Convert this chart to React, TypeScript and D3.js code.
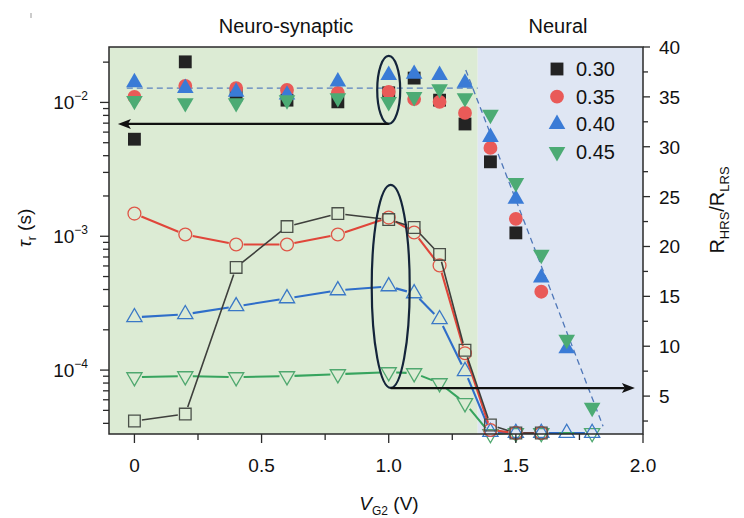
import React from 'react';
import * as d3 from 'd3';

// V_G2 positions and values
// filled symbols -> tau_r (left, log axis); open symbols -> R_HRS/R_LRS (right axis)
const tauX030 = [0, 0.2, 0.4, 0.6, 0.8, 1.0, 1.1, 1.2, 1.3, 1.4, 1.5];
const tau030 = [0.00531, 0.0201, 0.0114, 0.0104, 0.0101, 0.0118, 0.0152, 0.0104, 0.0069, 0.0036, 0.00106];
const tauX035 = [0, 0.2, 0.4, 0.6, 0.8, 1.0, 1.1, 1.2, 1.3, 1.4, 1.5, 1.6];
const tau035 = [0.011, 0.0133, 0.0128, 0.0124, 0.0118, 0.012, 0.0106, 0.0101, 0.00835, 0.00457, 0.00135, 0.000385];
const tauX040 = [0, 0.2, 0.4, 0.6, 0.8, 1.0, 1.1, 1.2, 1.3, 1.4, 1.5, 1.6, 1.7];
const tau040 = [0.0141, 0.0128, 0.012, 0.0114, 0.0143, 0.016, 0.0163, 0.016, 0.014, 0.0055, 0.0019, 0.00049, 0.000145];
const tauX045 = [0, 0.2, 0.4, 0.6, 0.8, 1.0, 1.1, 1.2, 1.3, 1.4, 1.5, 1.6, 1.7, 1.8];
const tau045 = [0.0103, 0.0099, 0.0099, 0.0104, 0.0108, 0.0101, 0.011, 0.0126, 0.0108, 0.0081, 0.00251, 0.00073, 0.000169, 0.0000525];

const ratioX030 = [0, 0.2, 0.4, 0.6, 0.8, 1.0, 1.1, 1.2, 1.3, 1.4, 1.5, 1.6];
const ratio030 = [2.5, 3.2, 17.9, 22.0, 23.3, 22.7, 21.9, 19.2, 9.6, 2.1, 1.3, 1.3];
const ratioX035 = [0, 0.2, 0.4, 0.6, 0.8, 1.0, 1.1, 1.2, 1.3, 1.4, 1.5, 1.6];
const ratio035 = [23.3, 21.2, 20.2, 20.2, 21.2, 22.9, 21.4, 18.1, 9.3, 1.6, 1.3, 1.3];
const ratioX040 = [0, 0.2, 0.4, 0.6, 0.8, 1.0, 1.1, 1.2, 1.3, 1.4, 1.5, 1.6, 1.7, 1.8];
const ratio040 = [12.9, 13.2, 14.0, 14.8, 15.6, 16.0, 15.3, 12.7, 7.5, 1.4, 1.3, 1.3, 1.3, 1.3];
const ratioX045 = [0, 0.2, 0.4, 0.6, 0.8, 1.0, 1.1, 1.2, 1.3, 1.4, 1.5, 1.6, 1.8];
const ratio045 = [6.9, 7.0, 6.9, 7.0, 7.2, 7.4, 7.3, 6.3, 4.3, 1.2, 1.3, 1.3, 1.3];

const legendLabels = ['0.30', '0.35', '0.40', '0.45'];
const xTicks = [0, 0.5, 1.0, 1.5, 2.0];
const xTickLabels = ['0', '0.5', '1.0', '1.5', '2.0'];
const xMinorTicks = [0.25, 0.75, 1.25, 1.75];
const rTicks = [5, 10, 15, 20, 25, 30, 35, 40];
const rMinorTicks = [2.5, 7.5, 12.5, 17.5, 22.5, 27.5, 32.5, 37.5];
const regionSplit = 1.35; // Neuro-synaptic | Neural

// guide lines / annotations in data units
const flatGuideX = [-0.03, 1.35];
const flatGuideTau = 0.0128;
const slopeGuideX = [1.303, 1.843];
const slopeGuideTau = [0.0175, 0.000038];

const W = 744;
const H = 518;
const M = { left: 109, right: 643, top: 47, bottom: 434 };
const FONT = 'Liberation Sans, Arial, Helvetica, sans-serif';

const x = d3.scaleLinear().domain([-0.1, 2.0]).range([M.left, M.right]);
const yTau = d3.scaleLog().domain([3.33e-5, 0.02595]).range([M.bottom, M.top]);
const yR = d3.scaleLinear().domain([1.2, 40]).range([M.bottom, M.top]);

const COLORS = {
  black: '#232323',
  red: '#e95a58',
  blue: '#3a7bd6',
  green: '#4cab74',
};
const OPEN = {
  black: { stroke: '#4a5049', line: '#3e3f3c', lw: 1.6 },
  red: { stroke: '#df5647', line: '#e0463a', lw: 2.1 },
  blue: { stroke: '#3a78c6', line: '#2f6ec9', lw: 2.1 },
  green: { stroke: '#4fa86f', line: '#37a45e', lw: 2.1 },
};

type Shape = 'square' | 'circle' | 'up' | 'down';

function symbolPath(shape: Shape, size: number) {
  const t = shape === 'square' ? d3.symbolSquare : shape === 'circle' ? d3.symbolCircle : d3.symbolTriangle;
  return d3.symbol().type(t).size(size)() || '';
}

function Marker({ cx, cy, shape, size, fill, stroke, sw }: any) {
  const rot = shape === 'down' ? ' rotate(180)' : '';
  return (
    <path
      d={symbolPath(shape, size)}
      transform={`translate(${cx},${cy})${rot}`}
      fill={fill}
      stroke={stroke}
      strokeWidth={sw || 0}
    />
  );
}

// line segments broken around markers (gap at each end)
function gappedSegments(pts: [number, number][], gap: number) {
  const segs: string[] = [];
  for (let i = 0; i < pts.length - 1; i++) {
    const [x0, y0] = pts[i];
    const [x1, y1] = pts[i + 1];
    const d = Math.hypot(x1 - x0, y1 - y0);
    if (d <= gap * 2) continue;
    const ux = (x1 - x0) / d;
    const uy = (y1 - y0) / d;
    segs.push(`M${x0 + ux * gap},${y0 + uy * gap}L${x1 - ux * gap},${y1 - uy * gap}`);
  }
  return segs.join('');
}

const filledSeries = [
  { xs: tauX030, ys: tau030, shape: 'square' as Shape, color: COLORS.black, size: 165 },
  { xs: tauX035, ys: tau035, shape: 'circle' as Shape, color: COLORS.red, size: 150 },
  { xs: tauX040, ys: tau040, shape: 'up' as Shape, color: COLORS.blue, size: 120 },
  { xs: tauX045, ys: tau045, shape: 'down' as Shape, color: COLORS.green, size: 120 },
];

const openSeries = [
  { xs: ratioX045, ys: ratio045, shape: 'down' as Shape, style: OPEN.green, size: 100 },
  { xs: ratioX040, ys: ratio040, shape: 'up' as Shape, style: OPEN.blue, size: 100 },
  { xs: ratioX035, ys: ratio035, shape: 'circle' as Shape, style: OPEN.red, size: 130 },
  { xs: ratioX030, ys: ratio030, shape: 'square' as Shape, style: OPEN.black, size: 135 },
];

function Arrow({ x1, x2, y }: { x1: number; x2: number; y: number }) {
  const dir = x2 > x1 ? 1 : -1;
  const head = `M${x2},${y}L${x2 - dir * 13},${y - 5}L${x2 - dir * 10},${y}L${x2 - dir * 13},${y + 5}Z`;
  return (
    <g>
      <line x1={x1} x2={x2 - dir * 10} y1={y} y2={y} stroke="#111" strokeWidth={2.3} />
      <path d={head} fill="#111" />
    </g>
  );
}

export default function App() {
  const logTicks = yTau.ticks().filter((v) => v >= yTau.domain()[0] && v <= yTau.domain()[1]);
  const isDecade = (v: number) => Math.abs(Math.log10(v) - Math.round(Math.log10(v))) < 1e-6;

  const topEll = { cx: x(1.0), cy: yTau(0.0124), rx: 11.5, ry: 34 };
  const botEll = { cx: x(1.0) + 2, cy: yR(16.0), rx: 19, ry: 101.5 };
  const topArrowY = yTau(0.00691);
  const botArrowY = yR(5.8);

  return (
    <div style={{ position: 'absolute', left: 0, top: 0, width: W, height: H, background: '#fff' }}>
      <svg width={W} height={H} style={{ display: 'block', fontFamily: FONT }}>
        {/* region shading */}
        <rect x={M.left} y={M.top} width={x(regionSplit) - M.left} height={M.bottom - M.top} fill="#dcebd4" />
        <rect x={x(regionSplit)} y={M.top} width={M.right - x(regionSplit)} height={M.bottom - M.top} fill="#dfe6f3" />

        {/* dashed guides */}
        <line
          x1={x(flatGuideX[0])}
          x2={x(flatGuideX[1])}
          y1={yTau(flatGuideTau)}
          y2={yTau(flatGuideTau)}
          stroke="#5b82be"
          strokeWidth={1.3}
          strokeDasharray="6,4"
        />
        <line
          x1={x(slopeGuideX[0])}
          x2={x(slopeGuideX[1])}
          y1={yTau(slopeGuideTau[0])}
          y2={yTau(slopeGuideTau[1])}
          stroke="#4f77b8"
          strokeWidth={1.3}
          strokeDasharray="6,4"
        />

        {/* open symbols: R_HRS/R_LRS */}
        {openSeries.map((s, i) => {
          const pts = s.xs.map((v, j) => [x(v), yR(s.ys[j])] as [number, number]);
          return (
            <g key={'o' + i}>
              <path d={gappedSegments(pts, 7.5)} fill="none" stroke={s.style.line} strokeWidth={s.style.lw} />
              {pts.map(([px, py], j) => (
                <Marker key={j} cx={px} cy={py} shape={s.shape} size={s.size} fill="none" stroke={s.style.stroke} sw={1.3} />
              ))}
            </g>
          );
        })}

        {/* filled symbols: tau_r */}
        {filledSeries.map((s, i) => (
          <g key={'f' + i}>
            {s.xs.map((v, j) => (
              <Marker key={j} cx={x(v)} cy={yTau(s.ys[j])} shape={s.shape} size={s.size} fill={s.color} />
            ))}
          </g>
        ))}

        {/* annotations */}
        <ellipse cx={topEll.cx} cy={topEll.cy} rx={topEll.rx} ry={topEll.ry} fill="none" stroke="#14243a" strokeWidth={2.2} />
        <ellipse cx={botEll.cx} cy={botEll.cy} rx={botEll.rx} ry={botEll.ry} fill="none" stroke="#14243a" strokeWidth={2.2} />
        <Arrow x1={topEll.cx} x2={x(-0.065)} y={topArrowY} />
        <Arrow x1={botEll.cx} x2={x(1.968)} y={botArrowY} />

        {/* frame */}
        <rect
          x={M.left}
          y={M.top}
          width={M.right - M.left}
          height={M.bottom - M.top}
          fill="none"
          stroke="#2a2a2a"
          strokeWidth={1.5}
        />

        {/* bottom axis */}
        {xTicks.map((v, i) => (
          <g key={'xt' + i}>
            <line x1={x(v)} x2={x(v)} y1={M.bottom} y2={M.bottom + 9} stroke="#2a2a2a" strokeWidth={1.3} />
            <text x={x(v)} y={M.bottom + 38} textAnchor="middle" fontSize={19} fill="#111">
              {xTickLabels[i]}
            </text>
          </g>
        ))}
        {xMinorTicks.map((v, i) => (
          <line key={'xm' + i} x1={x(v)} x2={x(v)} y1={M.bottom} y2={M.bottom + 6} stroke="#2a2a2a" strokeWidth={1.3} />
        ))}
        <text x={389} y={510} textAnchor="middle" fontSize={19} fill="#111">
          <tspan fontStyle="italic">V</tspan>
          <tspan fontSize={12} dy={5}>G2</tspan>
          <tspan dy={-5}> (V)</tspan>
        </text>

        {/* left log axis */}
        {logTicks.map((v, i) => {
          const major = isDecade(v);
          return (
            <g key={'yl' + i}>
              <line
                x1={M.left - (major ? 9 : 6)}
                x2={M.left}
                y1={yTau(v)}
                y2={yTau(v)}
                stroke="#2a2a2a"
                strokeWidth={1.3}
              />
              {major && (
                <text x={88} y={yTau(v) + 7} textAnchor="end" fontSize={19} fill="#111">
                  10
                  <tspan fontSize={12} dy={-9}>
                    {'\u2212' + Math.round(-Math.log10(v))}
                  </tspan>
                </text>
              )}
            </g>
          );
        })}
        <text transform="translate(31,228) rotate(-90)" textAnchor="middle" fontSize={19} fill="#111">
          <tspan fontStyle="italic">τ</tspan>
          <tspan fontSize={12} dy={5}>r</tspan>
          <tspan dy={-5}> (s)</tspan>
        </text>

        {/* right axis */}
        {rTicks.map((v, i) => (
          <g key={'yr' + i}>
            <line x1={M.right} x2={M.right + 7} y1={yR(v)} y2={yR(v)} stroke="#2a2a2a" strokeWidth={1.3} />
            <text x={659} y={yR(v) + 7} fontSize={19} fill="#111">
              {v}
            </text>
          </g>
        ))}
        {rMinorTicks.map((v, i) => (
          <line key={'yrm' + i} x1={M.right} x2={M.right + 5} y1={yR(v)} y2={yR(v)} stroke="#2a2a2a" strokeWidth={1.3} />
        ))}
        <text transform="translate(724,210) rotate(-90)" textAnchor="middle" fontSize={20} fill="#111">
          R<tspan fontSize={13} dy={5}>HRS</tspan>
          <tspan dy={-5}>/R</tspan>
          <tspan fontSize={13} dy={5}>LRS</tspan>
        </text>

        {/* region titles */}
        <text x={286} y={33} textAnchor="middle" fontSize={20} fill="#111">
          Neuro-synaptic
        </text>
        <text x={558} y={33} textAnchor="middle" fontSize={20} fill="#111">
          Neural
        </text>

        {/* legend */}
        {filledSeries.map((s, i) => {
          const ly = 69 + i * 27.6;
          return (
            <g key={'lg' + i}>
              <Marker cx={557} cy={ly} shape={s.shape} size={s.size} fill={s.color} />
              <text x={576} y={ly + 7} fontSize={20} fill="#111">
                {legendLabels[i]}
              </text>
            </g>
          );
        })}

        {/* stray mark in the scan */}
        <line x1={31} x2={31} y1={13} y2={18} stroke="#999" strokeWidth={1} />
      </svg>
    </div>
  );
}
